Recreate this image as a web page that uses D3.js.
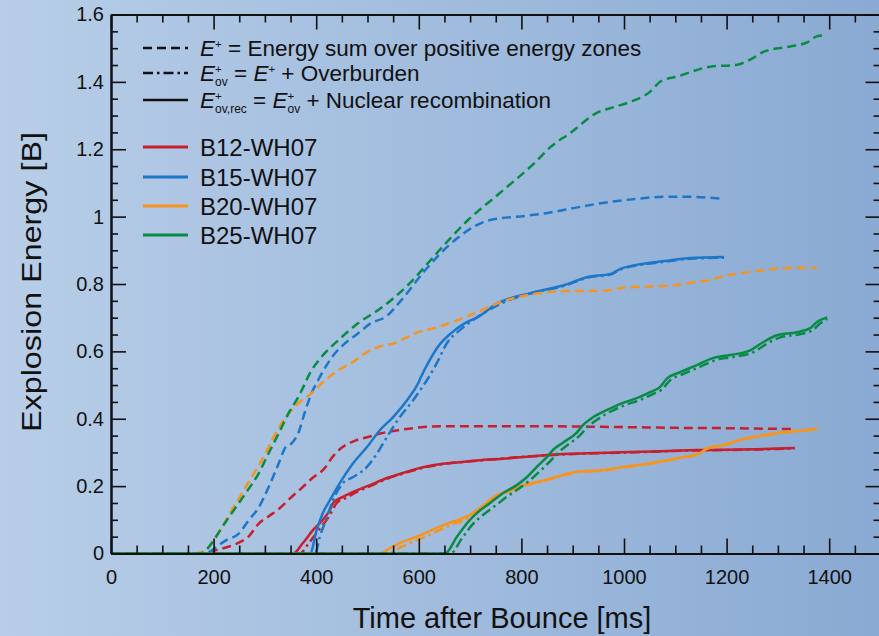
<!DOCTYPE html>
<html>
<head>
<meta charset="utf-8">
<script src="https://cdn.jsdelivr.net/npm/d3@7"></script>
<style>
  html, body { margin: 0; padding: 0; background: #a3bde0; }
  svg { display: block; font-family: "Liberation Sans", Arial, Helvetica, sans-serif; }
</style>
</head>
<body>
<div id="chart"></div>
<script>
// model names and colours
const models = ["B12-WH07", "B15-WH07", "B20-WH07", "B25-WH07"];
const colors = ["#c61f2d", "#1c77c9", "#f7941d", "#078b45"];

// [time ms, energy B]
// E+ (dashed)
const b12Pos = [[0,0],[175,0],[200,0.008],[224,0.018],[249,0.032],[268,0.05],[288,0.089],[307,0.11],[330,0.136],[350,0.165],[370,0.192],[391,0.222],[418,0.256],[430,0.283],[449,0.313],[476,0.335],[501,0.346],[527,0.357],[560,0.366],[600,0.374],[650,0.378],[720,0.378],[817,0.378],[900,0.377],[1012,0.375],[1100,0.373],[1207,0.372],[1333,0.369]];
const b15Pos = [[0,0],[185,0],[204,0.018],[224,0.039],[249,0.059],[268,0.098],[288,0.137],[307,0.196],[327,0.268],[340,0.315],[352,0.327],[365,0.357],[379,0.425],[391,0.476],[404,0.515],[418,0.553],[437,0.595],[457,0.625],[482,0.654],[507,0.684],[535,0.702],[566,0.752],[612,0.84],[670,0.93],[739,0.99],[807,1.002],[851,1.011],[904,1.026],[948,1.038],[1026,1.053],[1079,1.059],[1118,1.059],[1168,1.056],[1195,1.053]];
const b20Pos = [[0,0],[165,0],[190,0.018],[204,0.048],[216,0.077],[235,0.128],[255,0.178],[274,0.226],[301,0.297],[321,0.357],[340,0.404],[365,0.446],[391,0.476],[418,0.515],[443,0.544],[468,0.565],[496,0.595],[521,0.613],[554,0.625],[573,0.639],[599,0.657],[637,0.672],[676,0.693],[715,0.717],[754,0.743],[793,0.761],[838,0.773],[884,0.779],[948,0.779],[1013,0.791],[1079,0.794],[1129,0.803],[1168,0.812],[1195,0.824],[1246,0.836],[1293,0.845],[1337,0.848],[1376,0.848]];
const b25Pos = [[0,0],[175,0],[196,0.03],[216,0.077],[235,0.119],[262,0.178],[288,0.238],[307,0.297],[327,0.357],[346,0.416],[365,0.464],[391,0.544],[410,0.583],[443,0.633],[482,0.684],[521,0.723],[546,0.752],[579,0.797],[637,0.895],[696,0.99],[754,1.065],[826,1.16],[857,1.207],[896,1.249],[948,1.309],[982,1.326],[1013,1.341],[1051,1.371],[1071,1.401],[1104,1.416],[1168,1.445],[1221,1.451],[1246,1.466],[1273,1.49],[1324,1.505],[1357,1.517],[1376,1.535],[1392,1.538]];

// E+ov (dash-dot)
const b12Ov = [[0,0],[368,0],[385,0.03],[405,0.07],[425,0.11],[440,0.15],[458,0.165],[482,0.185],[505,0.2],[538,0.222],[569,0.237],[602,0.252],[641,0.264],[719,0.276],[881,0.294],[1012,0.3],[1142,0.306],[1271,0.309],[1333,0.312]];
const b15Ov = [[0,0],[398,0],[407,0.049],[421,0.108],[433,0.159],[452,0.209],[472,0.227],[499,0.257],[519,0.298],[538,0.346],[563,0.405],[589,0.455],[605,0.49],[616,0.515],[635,0.565],[655,0.625],[680,0.663],[706,0.693],[758,0.74],[818,0.772],[884,0.795],[929,0.819],[974,0.828],[993,0.843],[1032,0.857],[1079,0.866],[1129,0.875],[1195,0.878]];
const b20Ov = [[0,0],[540,0],[560,0.015],[589,0.035],[616,0.052],[641,0.07],[667,0.087],[694,0.103],[719,0.128],[752,0.168],[778,0.185],[803,0.2],[830,0.21],[869,0.226],[908,0.241],[959,0.246],[998,0.255],[1051,0.266],[1103,0.281],[1148,0.296],[1162,0.311],[1193,0.32],[1232,0.338],[1271,0.349],[1310,0.358],[1349,0.364],[1378,0.37]];
const b25Ov = [[0,0],[662,0],[684,0.045],[704,0.085],[724,0.113],[750,0.143],[775,0.172],[800,0.198],[820,0.222],[840,0.25],[860,0.28],[872,0.3],[890,0.322],[915,0.352],[928,0.374],[948,0.398],[972,0.42],[1003,0.441],[1030,0.455],[1056,0.473],[1075,0.488],[1089,0.513],[1114,0.532],[1147,0.553],[1178,0.574],[1212,0.583],[1251,0.597],[1276,0.62],[1303,0.641],[1342,0.651],[1368,0.663],[1381,0.681],[1396,0.697]];

// E+ov,rec (solid)
const b12Rec = [[0,0],[355,0],[374,0.031],[394,0.07],[413,0.1],[427,0.13],[433,0.15],[452,0.168],[480,0.188],[505,0.203],[538,0.224],[569,0.239],[602,0.254],[641,0.265],[680,0.271],[719,0.277],[752,0.28],[881,0.295],[1012,0.301],[1142,0.307],[1271,0.31],[1333,0.313]];
const b15Rec = [[0,0],[388,0],[401,0.07],[413,0.12],[427,0.159],[446,0.209],[472,0.268],[499,0.316],[524,0.366],[550,0.405],[577,0.455],[599,0.506],[604,0.523],[618,0.565],[637,0.613],[663,0.654],[690,0.684],[715,0.702],[754,0.743],[818,0.773],[884,0.797],[929,0.821],[974,0.83],[993,0.845],[1032,0.859],[1079,0.868],[1129,0.877],[1195,0.88]];
const b20Rec = [[0,0],[524,0],[544,0.016],[563,0.031],[589,0.046],[616,0.063],[641,0.08],[667,0.095],[694,0.11],[719,0.135],[752,0.173],[778,0.188],[803,0.203],[830,0.212],[869,0.228],[908,0.243],[959,0.248],[998,0.257],[1051,0.268],[1103,0.283],[1148,0.298],[1162,0.313],[1193,0.322],[1232,0.34],[1271,0.351],[1310,0.36],[1349,0.366],[1378,0.372]];
const b25Rec = [[0,0],[651,0],[674,0.049],[694,0.09],[713,0.12],[739,0.15],[764,0.179],[791,0.203],[811,0.227],[830,0.257],[850,0.287],[862,0.308],[881,0.329],[908,0.359],[920,0.381],[940,0.405],[967,0.426],[998,0.447],[1025,0.461],[1051,0.479],[1070,0.494],[1084,0.52],[1109,0.538],[1142,0.559],[1173,0.58],[1207,0.589],[1246,0.603],[1271,0.627],[1298,0.648],[1337,0.657],[1363,0.669],[1376,0.687],[1396,0.701]];

const posSets = [b12Pos, b15Pos, b20Pos, b25Pos];
const ovSets = [b12Ov, b15Ov, b20Ov, b25Ov];
const recSets = [b12Rec, b15Rec, b20Rec, b25Rec];

const xMajor = [0, 200, 400, 600, 800, 1000, 1200, 1400];
const yMajor = [0, 0.2, 0.4, 0.6, 0.8, 1, 1.2, 1.4, 1.6];

const W = 879, H = 636;
const DASH = "9,5", DASHDOT = "10,4,2.5,4";

const svg = d3.select("#chart").append("svg")
    .attr("width", W)
    .attr("height", H);

const grad = svg.append("defs").append("linearGradient")
    .attr("id", "bg")
    .attr("x1", 0).attr("x2", 1).attr("y1", 0).attr("y2", 0);
grad.append("stop").attr("offset", 0).attr("stop-color", "#b8cee8");
grad.append("stop").attr("offset", 1).attr("stop-color", "#8aaad3");

svg.append("rect").attr("width", W).attr("height", H).attr("fill", "url(#bg)");

const x = d3.scaleLinear().domain([0, 1500]).range([111, 880.5]);
const y = d3.scaleLinear().domain([0, 1.6]).range([553.5, 14.5]);

const line = d3.line()
    .x(d => x(d[0]))
    .y(d => y(d[1]))
    .curve(d3.curveMonotoneX);

// curves
const curves = svg.append("g").attr("fill", "none").attr("stroke-width", 2.5);
models.forEach((m, i) => {
    curves.append("path").attr("d", line(posSets[i])).attr("stroke", colors[i]).attr("stroke-dasharray", DASH);
    curves.append("path").attr("d", line(ovSets[i])).attr("stroke", colors[i]).attr("stroke-dasharray", DASHDOT);
    curves.append("path").attr("d", line(recSets[i])).attr("stroke", colors[i]);
});

// axes, ticks point inward on all four sides
const xMinor = d3.range(0, 1501, 50).filter(v => v % 200 != 0);
const yMinor = d3.range(0, 33).map(v => v * 0.05).filter(v => Math.abs(v * 5 - Math.round(v * 5)) > 1e-6);
const fmt = d3.format("~g");

function styleAxis(g) {
    g.select(".domain").attr("stroke", "#111").attr("stroke-width", 2);
    g.selectAll(".tick line").attr("stroke", "#111").attr("stroke-width", 1.6);
    g.selectAll(".tick text").attr("fill", "#111").attr("font-size", "20px")
        .attr("font-family", "'Liberation Sans', Arial, sans-serif");
}

svg.append("g").attr("transform", `translate(0,${y(0)})`)
    .call(d3.axisBottom(x).tickValues(xMinor).tickFormat("").tickSizeInner(-8).tickSizeOuter(0))
    .call(styleAxis);
svg.append("g").attr("transform", `translate(0,${y(0)})`)
    .call(d3.axisBottom(x).tickValues(xMajor).tickFormat(fmt).tickSizeInner(-15).tickSizeOuter(0).tickPadding(16))
    .call(styleAxis);

svg.append("g").attr("transform", `translate(0,${y(1.6)})`)
    .call(d3.axisTop(x).tickValues(xMinor).tickFormat("").tickSizeInner(-8).tickSizeOuter(0))
    .call(styleAxis);
svg.append("g").attr("transform", `translate(0,${y(1.6)})`)
    .call(d3.axisTop(x).tickValues(xMajor).tickFormat("").tickSizeInner(-15).tickSizeOuter(0))
    .call(styleAxis);

svg.append("g").attr("transform", `translate(${x(0)},0)`)
    .call(d3.axisLeft(y).tickValues(yMinor).tickFormat("").tickSizeInner(-7).tickSizeOuter(0))
    .call(styleAxis);
svg.append("g").attr("transform", `translate(${x(0)},0)`)
    .call(d3.axisLeft(y).tickValues(yMajor).tickFormat(fmt).tickSizeInner(-15).tickSizeOuter(0).tickPadding(7))
    .call(styleAxis);

svg.append("g").attr("transform", `translate(${x(1500)},0)`)
    .call(d3.axisRight(y).tickValues(yMinor).tickFormat("").tickSizeInner(-7).tickSizeOuter(0))
    .call(styleAxis);
svg.append("g").attr("transform", `translate(${x(1500)},0)`)
    .call(d3.axisRight(y).tickValues(yMajor).tickFormat("").tickSizeInner(-15).tickSizeOuter(0))
    .call(styleAxis);

// axis titles
svg.append("text")
    .attr("x", 502).attr("y", 628)
    .attr("text-anchor", "middle")
    .attr("font-size", "29px")
    .attr("fill", "#111")
    .text("Time after Bounce [ms]");

svg.append("text")
    .attr("transform", "translate(41,282) rotate(-90)")
    .attr("text-anchor", "middle")
    .attr("font-size", "28px")
    .attr("fill", "#111")
    .attr("textLength", 300)
    .attr("lengthAdjust", "spacingAndGlyphs")
    .text("Explosion Energy [B]");

// legend: line styles
const styleRows = [
    { dash: DASH, y: 48, parts: [["E", "it"], ["+", "sup"], [" = Energy sum over positive energy zones", "n"]] },
    { dash: DASHDOT, y: 73, parts: [["E", "it"], ["+", "sup"], ["ov", "sub"], [" = ", "n"], ["E", "it"], ["+", "sup"], [" + Overburden", "n"]] },
    { dash: null, y: 100, parts: [["E", "it"], ["+", "sup"], ["ov,rec", "sub"], [" = ", "n"], ["E", "it"], ["+", "sup"], ["ov", "sub"], [" + Nuclear recombination", "n"]] }
];

const leg = svg.append("g").attr("fill", "#111");
styleRows.forEach(r => {
    leg.append("line")
        .attr("x1", 143).attr("x2", 188)
        .attr("y1", r.y).attr("y2", r.y)
        .attr("stroke", "#111").attr("stroke-width", 2.6)
        .attr("stroke-dasharray", r.dash);
    const t = leg.append("text")
        .attr("x", 200).attr("y", r.y + 8)
        .attr("font-size", "22.5px");
    let off = 0, prev = null;
    r.parts.forEach(p => {
        const s = t.append("tspan").text(p[0]);
        let target = 0;
        if (p[1] == "it") s.attr("font-style", "italic");
        if (p[1] == "sup") { target = -8.5; s.attr("font-size", "11.5px"); }
        if (p[1] == "sub") {
            target = 5; s.attr("font-size", "12px");
            if (prev == "sup") s.attr("dx", -6.7);
        }
        s.attr("dy", target - off);
        off = target;
        prev = p[1];
    });
});

// legend: models
const legRowY = [147, 177, 206, 235];
models.forEach((m, i) => {
    leg.append("line")
        .attr("x1", 143).attr("x2", 188)
        .attr("y1", legRowY[i]).attr("y2", legRowY[i])
        .attr("stroke", colors[i]).attr("stroke-width", 3);
    leg.append("text")
        .attr("x", 200).attr("y", legRowY[i] + 8.5)
        .attr("font-size", "24px")
        .text(m);
});
</script>
</body>
</html>
